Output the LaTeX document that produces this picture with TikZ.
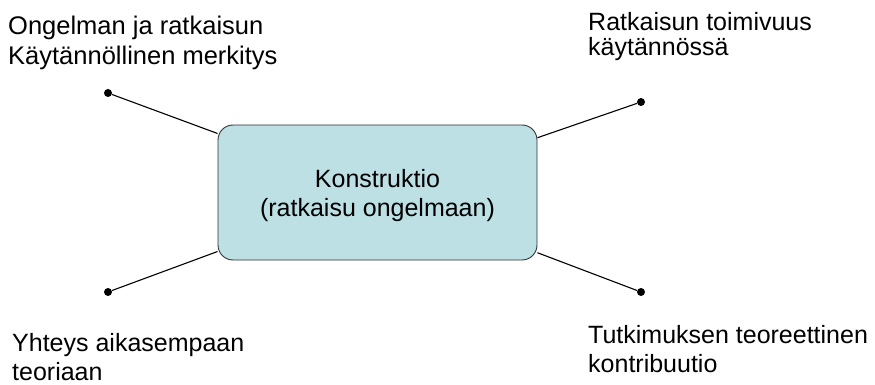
\documentclass[tikz,border=0pt]{standalone}
\usepackage{fontspec}
\setmainfont{Liberation Sans}
\begin{document}
\begin{tikzpicture}[x=1pt,y=-1pt,
  % multi-line labels: the base anchor sits on the last line
  label text/.style={anchor=base west,inner sep=0pt,align=left,
    font=\fontsize{25}{29}\selectfont},
  core/.style={draw=black!80,line width=0.9pt,fill=boxfill,rounded corners=15pt,
    minimum width=319pt,minimum height=135pt,inner sep=0pt},
  core text/.style={align=center,inner sep=0pt,font=\fontsize{25}{29}\selectfont},
  endpoint/.style={circle,fill=black,inner sep=0pt,minimum size=8pt},
  spoke/.style={line width=1.1pt}]
\definecolor{boxfill}{RGB}{188,224,228}
\useasboundingbox (0,0) rectangle (875,385);

% central construct
\node[core] (box) at (377.5,192.5) {};
\node[core text] (boxlabel) at ([yshift=-3pt]box.center) {Konstruktio\\(ratkaisu ongelmaan)};

% end points of the four spokes
\node[endpoint] (tl) at (108,93) {};
\node[endpoint] (tr) at (641,102) {};
\node[endpoint] (bl) at (108,292) {};
\node[endpoint] (br) at (641,292) {};

\draw[spoke] (tl) -- (box);
\draw[spoke] (tr) -- (box);
\draw[spoke] (bl) -- (box);
\draw[spoke] (br) -- (box);

% labels at the corners
\node[label text,font=\fontsize{25.5}{30}\selectfont] (ltl) at (8,65) {Ongelman ja ratkaisun\\Käytännöllinen merkitys};
\node[label text,font=\fontsize{25}{25}\selectfont] (ltr) at (588,56) {Ratkaisun toimivuus\\käytännössä};
\node[label text] (lbl) at (12,380) {Yhteys aikasempaan\\teoriaan};
\node[label text] (lbr) at (588,372) {Tutkimuksen teoreettinen\\kontribuutio};
\end{tikzpicture}
\end{document}
